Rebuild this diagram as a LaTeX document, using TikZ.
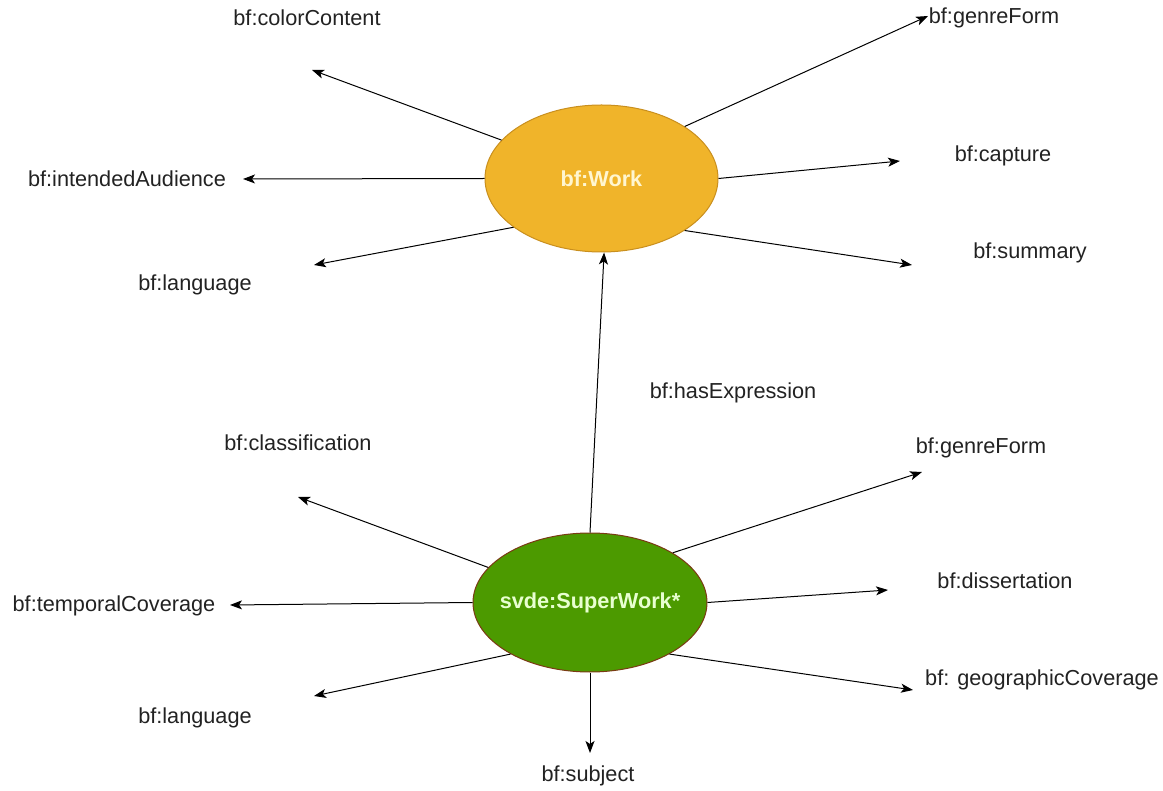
\documentclass[tikz,border=0pt]{standalone}
\usepackage{fontspec}
\setmainfont{Liberation Sans}
\usetikzlibrary{arrows.meta,shapes.geometric}
\definecolor{workfill}{HTML}{F0B42A}
\definecolor{workline}{HTML}{C98F1E}
\definecolor{workText}{HTML}{FFF6D0}
\definecolor{superfill}{HTML}{4C9A00}
\definecolor{superline}{HTML}{7A3A14}
\definecolor{superText}{HTML}{E8FFD0}
\definecolor{labelText}{HTML}{222222}
\tikzset{
  classnode/.style={ellipse, inner sep=0pt, line width=1pt},
  classname/.style={inner sep=0pt, font=\fontsize{21.7}{26}\selectfont\bfseries},
  proplabel/.style={inner sep=0pt, text=labelText, font=\fontsize{21.7}{26}\selectfont},
  link/.style={line width=1pt, -{Stealth[length=12pt,width=9pt,inset=3pt]}},
}
\begin{document}
\begin{tikzpicture}[x=1pt,y=-1pt]
\useasboundingbox (0,0) rectangle (1163,791);

% central classes
\node[classnode, fill=workfill, draw=workline,
      minimum width=233pt, minimum height=147pt] (work) at (601.5,178.5) {};
\node[classname, text=workText] (workName) at (work.center) {bf:Work};
\node[classnode, fill=superfill, draw=superline,
      minimum width=234pt, minimum height=139pt] (super) at (590,602.5) {};
\node[classname, text=superText] (superName) at (super.center) {svde:SuperWork*};

% properties of bf:Work
\node[proplabel] (wColor)    at (307,18)   {bf:colorContent};
\node[proplabel] (wGenre)    at (994,18)   {bf:genreForm};
\node[proplabel] (wAudience) at (127,179)  {bf:intendedAudience};
\node[proplabel] (wCapture)  at (1003,156) {bf:capture};
\node[proplabel] (wLang)     at (195,285)  {bf:language};
\node[proplabel] (wSummary)  at (1030,253) {bf:summary};

\coordinate (eColor)    at (312,70);
\coordinate (eGenre)    at (928,16);
\coordinate (eAudience) at (243,179);
\coordinate (eCapture)  at (900,161);
\coordinate (eLang)     at (314,265);
\coordinate (eSummary)  at (912,265);

\draw[link] (work.159) -- (eColor);
\draw[link] (work.32)  -- (eGenre);
\draw[link] (work.180) -- (eAudience);
\draw[link] (work.0)   -- (eCapture);
\draw[link] (work.209) -- (eLang);
\draw[link] (work.328) -- (eSummary);

% link between the two classes
\draw[link] (super.north) -- (work.272);
\node[proplabel] (hasExpr) at (733,393) {bf:hasExpression};

% properties of svde:SuperWork
\node[proplabel] (sClass)    at (298,443)  {bf:classification};
\node[proplabel] (sGenre)    at (981,448)  {bf:genreForm};
\node[proplabel] (sTemporal) at (114,606)  {bf:temporalCoverage};
\node[proplabel] (sDiss)     at (1005,581) {bf:dissertation};
\node[proplabel] (sLang)     at (195,718)  {bf:language};
\node[proplabel] (sGeo)      at (1042,680) {bf: geographicCoverage};
\node[proplabel] (sSubject)  at (588,776)  {bf:subject};

\coordinate (fClass)    at (298,497);
\coordinate (fGenre)    at (922,472);
\coordinate (fTemporal) at (230,605);
\coordinate (fDiss)     at (888,590);
\coordinate (fLang)     at (314,696);
\coordinate (fGeo)      at (913,690);
\coordinate (fSubject)  at (590,753);

\draw[link] (super.161) -- (fClass);
\draw[link] (super.31)  -- (fGenre);
\draw[link] (super.180) -- (fTemporal);
\draw[link] (super.0)   -- (fDiss);
\draw[link] (super.213) -- (fLang);
\draw[link] (super.327) -- (fGeo);
\draw[link] (super.south) -- (fSubject);
\end{tikzpicture}
\end{document}
